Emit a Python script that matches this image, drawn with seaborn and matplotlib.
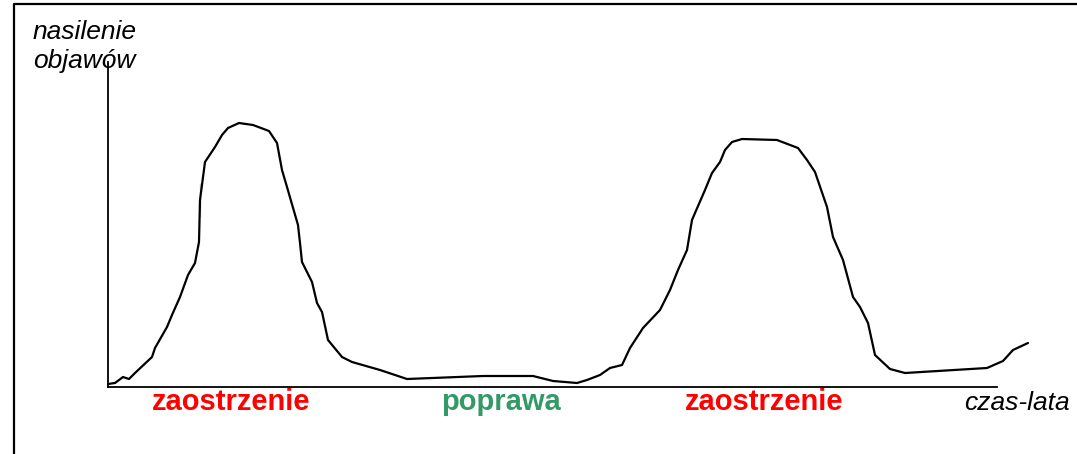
import numpy as np
from matplotlib import pyplot as plt
from matplotlib.lines import Line2D
import pandas as pd
import seaborn as sns

# time (arbitrary units along the axis) and symptom severity
czas = [0, 7, 15, 21, 27, 44, 47, 59, 64, 72, 80, 87, 91, 92, 92, 97, 107, 114, 120, 131,
        145, 161, 169, 174, 179, 190, 192, 194, 204, 209, 214, 220, 234, 244, 272,
        299, 375, 425, 445, 469, 479, 492, 502, 514, 522, 535, 552, 562, 570, 579,
        584, 587, 597, 604, 612, 617, 624, 634, 669, 690, 699, 707, 719, 725, 735,
        745, 752, 760, 767, 782, 797, 879, 895, 905, 920]
nasilenie = [3, 4, 10, 8, 14, 30, 39, 60, 72, 90, 112, 124, 145, 170, 204, 225, 240, 252, 259, 264,
             262, 256, 244, 217, 200, 162, 144, 125, 105, 84, 75, 47, 30, 25, 17,
             8, 11, 11, 6, 4, 7, 12, 19, 22, 39, 59, 77, 97, 117, 137,
             167, 174, 197, 214, 225, 237, 245, 248, 247, 239, 227, 215, 180, 150, 127,
             90, 80, 64, 32, 18, 14, 19, 26, 37, 44]

fazy = ["zaostrzenie", "poprawa", "zaostrzenie"]
fazy_x = [123, 393, 656]
fazy_kolor = ["#ff0000", "#339966", "#ff0000"]

df = pd.DataFrame({"czas": czas, "nasilenie": nasilenie})

sns.set_style("white")
plt.rcParams['font.family'] = ['Liberation Sans', 'DejaVu Sans']
plt.rcParams['text.color'] = 'black'

W, H = 1077, 454
fig = plt.figure(figsize=(W / 100, H / 100), dpi=100)
ax = fig.add_axes([108 / W, (H - 387) / H, (997 - 108) / W, (387 - 62) / H])

sns.lineplot(data=df, x="czas", y="nasilenie", sort=False, color="black",
             linewidth=1.6, ax=ax, clip_on=False,
             solid_joinstyle="round", solid_capstyle="round")
ax.set_xlim(0, 889)
ax.set_ylim(0, 325)
sns.despine(ax=ax)
for s in ["left", "bottom"]:
    ax.spines[s].set_color("black")
    ax.spines[s].set_linewidth(1.3)
ax.set_xticks([])
ax.set_yticks([])
ax.set_xlabel("")
ax.set_ylabel("")

# labels under the axis
for lab, x, c in zip(fazy, fazy_x, fazy_kolor):
    ax.text(x, -23, lab, color=c, fontsize=21, fontweight="bold",
            ha="center", va="baseline", clip_on=False)

fig.text(33 / W, 1 - 39 / H, "nasilenie", fontsize=19, style="italic",
         ha="left", va="baseline", color="black")
fig.text(33 / W, 1 - 68 / H, "objawów", fontsize=19, style="italic",
         ha="left", va="baseline", color="black")
fig.text(1070 / W, 1 - 410 / H, "czas-lata", fontsize=19, style="italic",
         ha="right", va="baseline", color="black")

# outer frame (left and top edges)
fig.add_artist(Line2D([13.5 / W, 13.5 / W, 1], [0, 1 - 3.5 / H, 1 - 3.5 / H],
                      color="black", linewidth=1.6, transform=fig.transFigure))

fig.savefig("out.png", dpi=100)
